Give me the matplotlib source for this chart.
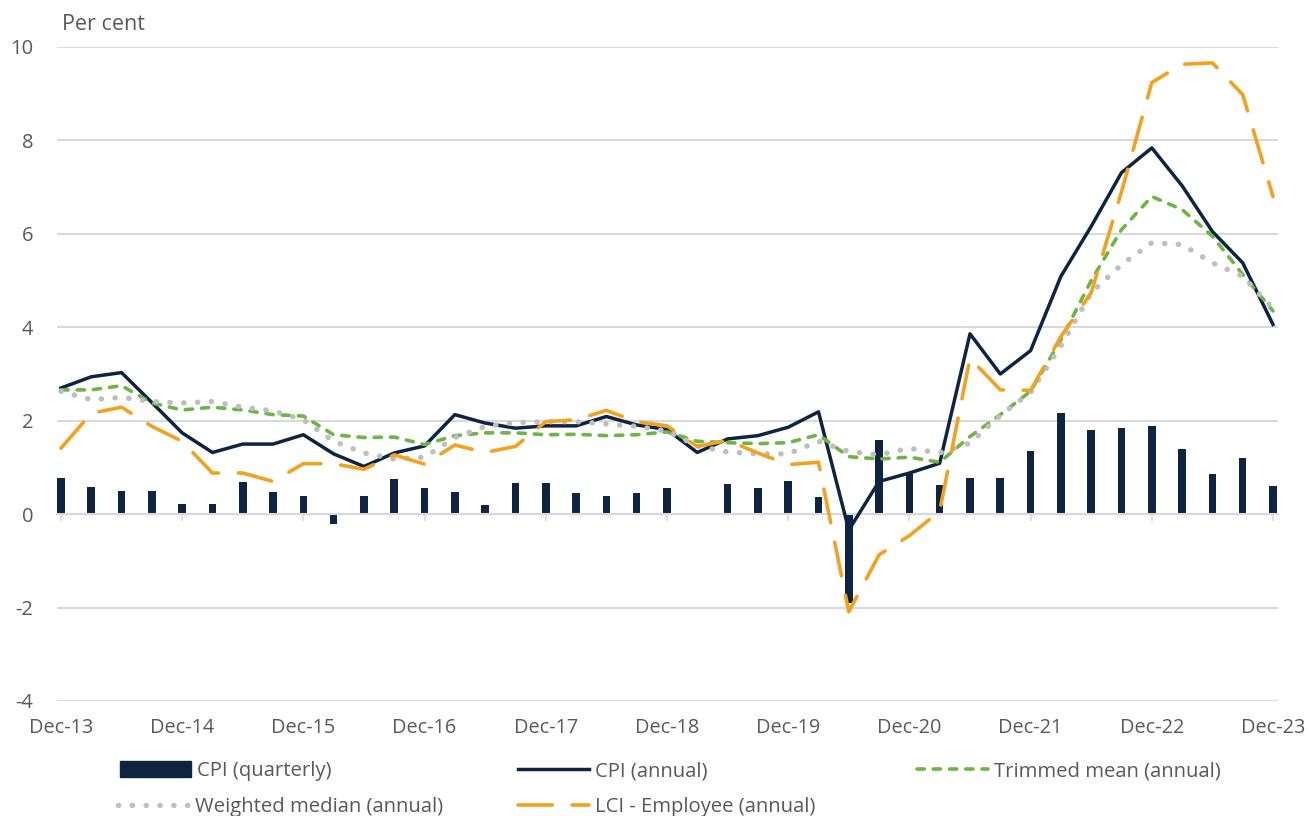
import matplotlib
matplotlib.use("Agg")
import matplotlib.pyplot as plt
from matplotlib.patches import Patch
from matplotlib.lines import Line2D
import numpy as np

plt.rcParams['font.family'] = ['Open Sans', 'DejaVu Sans']
plt.rcParams['axes.unicode_minus'] = False

# quarterly data, Dec-13 .. Dec-23
cpi_quarterly = [0.78, 0.59, 0.50, 0.50, 0.21, 0.21, 0.68, 0.48, 0.39, -0.21, 0.39, 0.76, 0.57,
                 0.48, 0.20, 0.66, 0.66, 0.46, 0.38, 0.46, 0.55, 0.0, 0.64, 0.55, 0.72, 0.37,
                 -1.9, 1.59, 0.85, 0.62, 0.78, 0.77, 1.36, 2.16, 1.80, 1.85, 1.89, 1.40, 0.86, 1.21, 0.61]
cpi_annual = [2.70, 2.94, 3.03, 2.39, 1.74, 1.32, 1.50, 1.50, 1.70, 1.29, 1.02, 1.31, 1.46,
              2.13, 1.95, 1.84, 1.89, 1.89, 2.09, 1.91, 1.81, 1.32, 1.61, 1.68, 1.86, 2.19,
              -0.34, 0.70, 0.88, 1.09, 3.86, 3.00, 3.50, 5.09, 6.16, 7.31, 7.84, 7.03, 6.05, 5.38, 4.06]
trimmed_mean = [2.66, 2.66, 2.75, 2.38, 2.23, 2.29, 2.23, 2.13, 2.10, 1.70, 1.64, 1.65, 1.49,
                1.68, 1.74, 1.74, 1.70, 1.71, 1.68, 1.70, 1.76, 1.56, 1.53, 1.51, 1.53, 1.70,
                1.23, 1.18, 1.22, 1.11, 1.66, 2.13, 2.63, 3.73, 5.00, 6.09, 6.80, 6.52, 5.95, 5.13, 4.35]
weighted_median = [2.63, 2.45, 2.50, 2.41, 2.38, 2.41, 2.29, 2.21, 2.02, 1.56, 1.31, 1.18, 1.22,
                   1.64, 1.88, 1.96, 1.98, 1.98, 1.93, 1.88, 1.78, 1.46, 1.33, 1.29, 1.29, 1.56,
                   1.34, 1.27, 1.41, 1.31, 1.52, 2.11, 2.61, 3.60, 4.74, 5.34, 5.81, 5.77, 5.38, 5.09, 4.40]
lci_employee = [1.41, 2.16, 2.29, 1.88, 1.56, 0.88, 0.88, 0.70, 1.08, 1.08, 0.96, 1.27, 1.07,
                1.48, 1.32, 1.45, 1.98, 2.02, 2.22, 1.98, 1.89, 1.45, 1.58, 1.31, 1.06, 1.11,
                -2.09, -0.87, -0.46, 0.06, 3.34, 2.66, 2.65, 3.80, 4.74, 6.90, 9.24, 9.63, 9.66, 8.98, 6.80]
year_labels = ['Dec-13', 'Dec-14', 'Dec-15', 'Dec-16', 'Dec-17', 'Dec-18',
               'Dec-19', 'Dec-20', 'Dec-21', 'Dec-22', 'Dec-23']

navy = '#0E2441'
green = '#6DB544'
grey_dots = '#BFBFBF'
orange = '#F2A21E'
text_col = '#595959'
grid_col = '#D9D9D9'

x = np.arange(len(cpi_quarterly))

fig = plt.figure(figsize=(13.09, 8.16), dpi=100)
ax = fig.add_axes([57 / 1309, 1 - 701 / 816, (1278 - 57) / 1309, (701 - 47) / 816])

ax.bar(x, cpi_quarterly, width=0.25, color=navy, zorder=2)
ax.plot(x, cpi_annual, color=navy, lw=2.5, zorder=3)
ax.plot(x, trimmed_mean, color=green, lw=2.6, linestyle=(0, (2.0, 2.5)),
        dash_capstyle='round', zorder=3)
ax.plot(x, weighted_median, color=grey_dots, lw=3.9, linestyle=(0, (0.05, 2.5)),
        dash_capstyle='round', zorder=3)
ax.plot(x, lci_employee, color=orange, lw=2.6, linestyle=(0, (9.5, 5.5)),
        dash_capstyle='round', zorder=4)

ax.set_xlim(-0.13, 40.165)
ax.set_ylim(-4, 10)
ax.set_yticks(np.arange(-4, 11, 2))
ax.yaxis.grid(True, color=grid_col, lw=1.5)
ax.set_axisbelow(True)
ax.tick_params(axis='y', length=0, pad=17, labelsize=14.5, labelcolor=text_col)

for s in ['top', 'right', 'left']:
    ax.spines[s].set_visible(False)
ax.spines['bottom'].set_position(('data', 0))
ax.spines['bottom'].set_color(grid_col)
ax.spines['bottom'].set_linewidth(1.5)
ax.set_xticks(np.arange(0, 41, 4))
ax.tick_params(axis='x', direction='out', length=5, width=1.2, color=grid_col,
               labelbottom=False)

secax = ax.secondary_xaxis('bottom')
secax.set_xticks(np.arange(0, 41, 4), year_labels)
secax.tick_params(length=0, pad=12, labelsize=14.3, labelcolor=text_col)
secax.spines['bottom'].set_visible(False)

fig.text(62 / 1309, 1 - 25 / 816, 'Per cent', fontsize=15.5, color=text_col, va='center')

entries = [
    (Patch(facecolor=navy, edgecolor=navy), 'CPI (quarterly)', 120, 771),
    (Line2D([], [], color=navy, lw=2.5), 'CPI (annual)', 518, 771),
    (Line2D([], [], color=green, lw=2.6, linestyle=(0, (2.0, 2.5)), dash_capstyle='round'),
     'Trimmed mean (annual)', 917, 771),
    (Line2D([], [], color=grey_dots, lw=3.9, linestyle=(0, (0.05, 2.5)), dash_capstyle='round'),
     'Weighted median (annual)', 118, 807),
    (Line2D([], [], color=orange, lw=2.6, linestyle=(0, (9.5, 5.5)), dash_capstyle='round'),
     'LCI - Employee (annual)', 518, 807),
]
for h, lab, px, py in entries:
    fig.legend(handles=[h], labels=[lab], loc='center left',
               bbox_to_anchor=(px / 1309, 1 - py / 816), frameon=False,
               borderpad=0, borderaxespad=0, handlelength=3.5, handleheight=0.8,
               handletextpad=0.3, fontsize=14.6, labelcolor=text_col)

fig.savefig('out.png', dpi=100)
